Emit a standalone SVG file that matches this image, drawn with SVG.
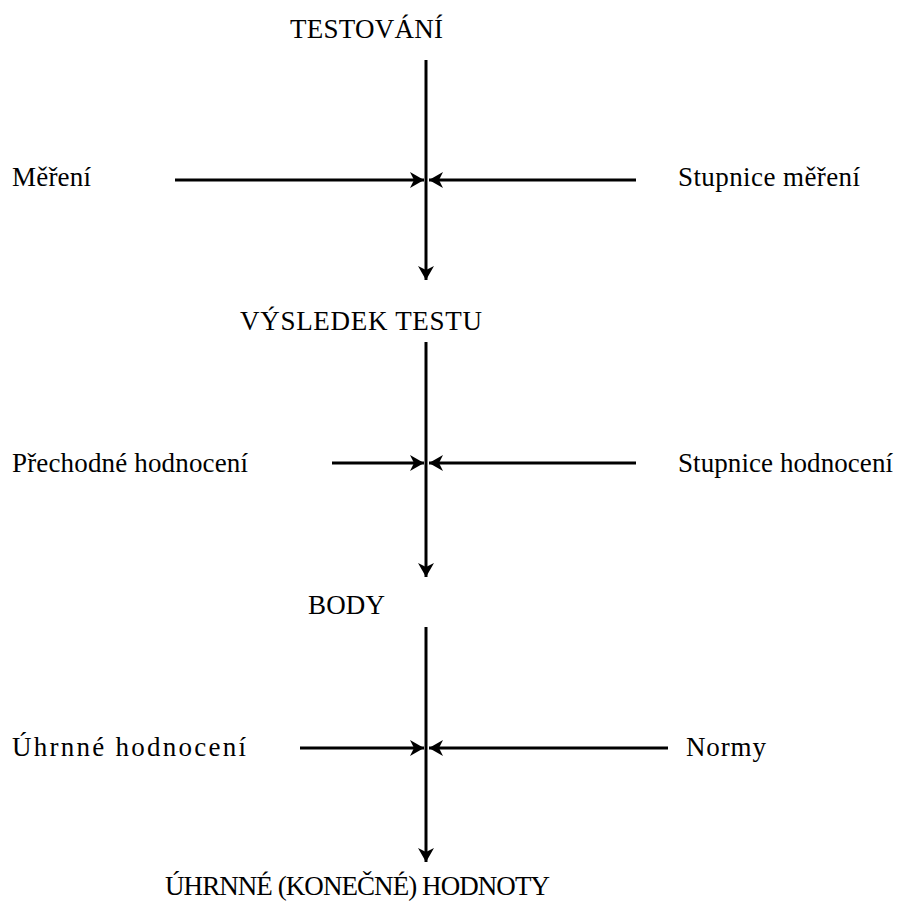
<svg xmlns="http://www.w3.org/2000/svg" width="901" height="902" viewBox="0 0 901 902">
<style>
text{font-family:"Liberation Serif","Times New Roman",serif;font-size:27px;fill:#000}
.ln{stroke:#000;stroke-width:3;fill:none}
</style>
<defs>
<marker id="ah" markerUnits="userSpaceOnUse" markerWidth="18" markerHeight="18" refX="14" refY="8" orient="auto">
<path d="M0,0 L14,8 L0,16 L4,8 Z" fill="#000"/>
</marker>
</defs>
<rect width="901" height="902" fill="#fff"/>
<g id="connectors">
<line class="ln" x1="426" y1="60" x2="426" y2="280" marker-end="url(#ah)"/>
<line class="ln" x1="426" y1="342" x2="426" y2="577" marker-end="url(#ah)"/>
<line class="ln" x1="426" y1="627" x2="426" y2="862" marker-end="url(#ah)"/>
<line class="ln" x1="175" y1="180" x2="424" y2="180" marker-end="url(#ah)"/>
<line class="ln" x1="636" y1="180" x2="429" y2="180" marker-end="url(#ah)"/>
<line class="ln" x1="332" y1="463" x2="424" y2="463" marker-end="url(#ah)"/>
<line class="ln" x1="636" y1="463" x2="429" y2="463" marker-end="url(#ah)"/>
<line class="ln" x1="300" y1="748" x2="424" y2="748" marker-end="url(#ah)"/>
<line class="ln" x1="668" y1="748" x2="429" y2="748" marker-end="url(#ah)"/>
</g>
<g id="n-testovani"><text x="290" y="38" textLength="153">TESTOVÁNÍ</text></g>
<g id="n-mereni"><text x="12" y="186" textLength="79">Měření</text></g>
<g id="n-stupnice-mereni"><text x="678" y="186" textLength="182">Stupnice měření</text></g>
<g id="n-vysledek"><text x="240" y="330" textLength="242">VÝSLEDEK TESTU</text></g>
<g id="n-prechodne"><text x="12" y="472" textLength="236">Přechodné hodnocení</text></g>
<g id="n-stupnice-hodnoceni"><text x="678" y="472" textLength="215">Stupnice hodnocení</text></g>
<g id="n-body"><text x="308" y="614" textLength="77">BODY</text></g>
<g id="n-uhrnne"><text x="12" y="756" textLength="234">Úhrnné hodnocení</text></g>
<g id="n-normy"><text x="686" y="756" textLength="80">Normy</text></g>
<g id="n-uhrnne-hodnoty"><text x="165" y="895" textLength="385">ÚHRNNÉ (KONEČNÉ) HODNOTY</text></g>
</svg>
